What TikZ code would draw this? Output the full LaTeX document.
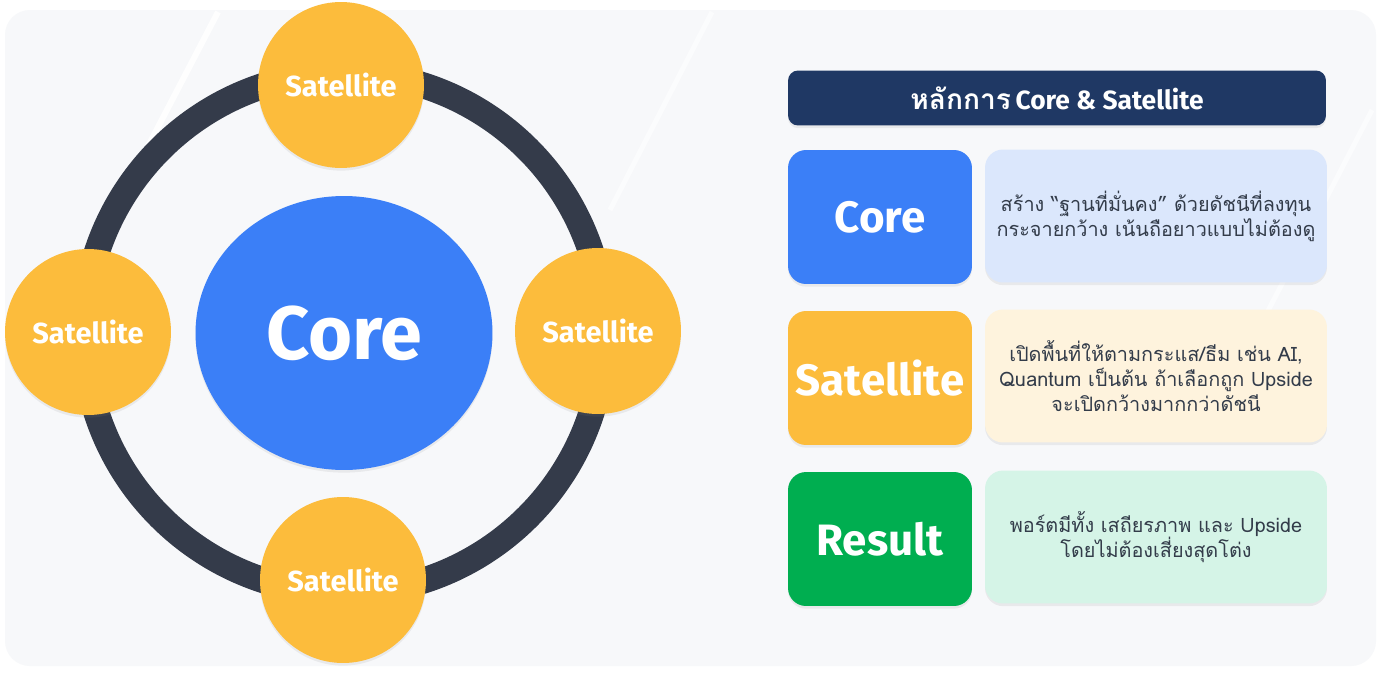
\documentclass[tikz,border=0pt]{standalone}
\usepackage{fontspec}
\setmainfont{Fira Sans}
\newfontfamily\thaifont[Script=Thai]{Loma}
\usetikzlibrary{shapes.geometric,shadows}

\definecolor{bgcol}{HTML}{F7F8FA}
\definecolor{ringcol}{HTML}{343B4A}
\definecolor{satcol}{HTML}{FCBC3C}
\definecolor{corecol}{HTML}{3B7FF7}
\definecolor{navycol}{HTML}{1F3864}
\definecolor{resultcol}{HTML}{00AE50}
\definecolor{coredesc}{HTML}{DBE7FC}
\definecolor{satdesc}{HTML}{FEF3DD}
\definecolor{resultdesc}{HTML}{D5F4E7}
\definecolor{desctext}{HTML}{333C4A}

\tikzset{
  softshadow/.style={drop shadow={opacity=0.12,shadow xshift=0pt,shadow yshift=-1.5pt}},
  satellite/.style={circle,fill=satcol,minimum size=3.32cm,inner sep=0pt,text=white,
    font=\bfseries\fontsize{16.5}{20}\selectfont,softshadow},
  labelbox/.style={rectangle,rounded corners=0.36cm,minimum width=3.68cm,minimum height=2.68cm,
    inner sep=0pt,text=white,font=\bfseries\fontsize{25}{30}\selectfont,softshadow},
  descbox/.style={rectangle,rounded corners=0.36cm,minimum width=6.84cm,minimum height=2.66cm,
    inner sep=0pt,align=center,text=desctext,font=\thaifont\fontsize{11.3}{14.2}\selectfont,softshadow}
}

\begin{document}
\begin{tikzpicture}[x=0.02cm,y=-0.02cm]

% Background
\fill[white] (0,0) rectangle (1379,673);
\fill[bgcol,rounded corners=0.5cm] (5,10) rectangle (1376,666);
\draw[white,line width=0.12cm,opacity=0.9] (218,12) -- (120,200);
\draw[white,line width=0.1cm,opacity=0.6] (712,12) -- (610,210);
\draw[white,line width=0.1cm,opacity=0.6] (1372,110) -- (1240,365);

% Ring
\node[ellipse,fill=corecol,minimum width=5.94cm,minimum height=5.48cm,inner sep=0pt,
  text=white,font=\bfseries\fontsize{43}{50}\selectfont,softshadow] (core) at (344,333) {Core};
\draw[ringcol,line width=0.52cm] (core.center) circle[radius=5.2cm];

% Satellites
\node[satellite] (sattop) at (341,85) {Satellite};
\node[satellite] (satleft) at (88,332) {Satellite};
\node[satellite] (satright) at (598,331) {Satellite};
\node[satellite] (satbottom) at (343,580) {Satellite};

% Header
\node[rectangle,fill=navycol,rounded corners=0.2cm,minimum width=10.76cm,minimum height=1.1cm,
  inner sep=0pt,text=white,softshadow] (header) at (1057,98)
  {{\thaifont\bfseries\fontsize{16}{18}\selectfont หลักการ} {\bfseries\fontsize{15}{18}\selectfont Core \& Satellite}};

% Rows
\node[labelbox,fill=corecol] (corelbl) at (880,217) {Core};
\node[descbox,fill=coredesc] (coretxt) at (1156,216)
  {สร้าง “ฐานที่มั่นคง” ด้วยดัชนีที่ลงทุน\\กระจายกว้าง เน้นถือยาวแบบไม่ต้องดู};

\node[labelbox,fill=satcol] (satlbl) at (880,378) {Satellite};
\node[descbox,fill=satdesc] (sattxt) at (1156,376)
  {เปิดพื้นที่ให้ตามกระแส/ธีม เช่น AI,\\Quantum เป็นต้น ถ้าเลือกถูก Upside\\จะเปิดกว้างมากกว่าดัชนี};

\node[labelbox,fill=resultcol] (resultlbl) at (880,539) {Result};
\node[descbox,fill=resultdesc] (resulttxt) at (1156,537)
  {พอร์ตมีทั้ง เสถียรภาพ และ Upside\\โดยไม่ต้องเสี่ยงสุดโต่ง};

\end{tikzpicture}
\end{document}
